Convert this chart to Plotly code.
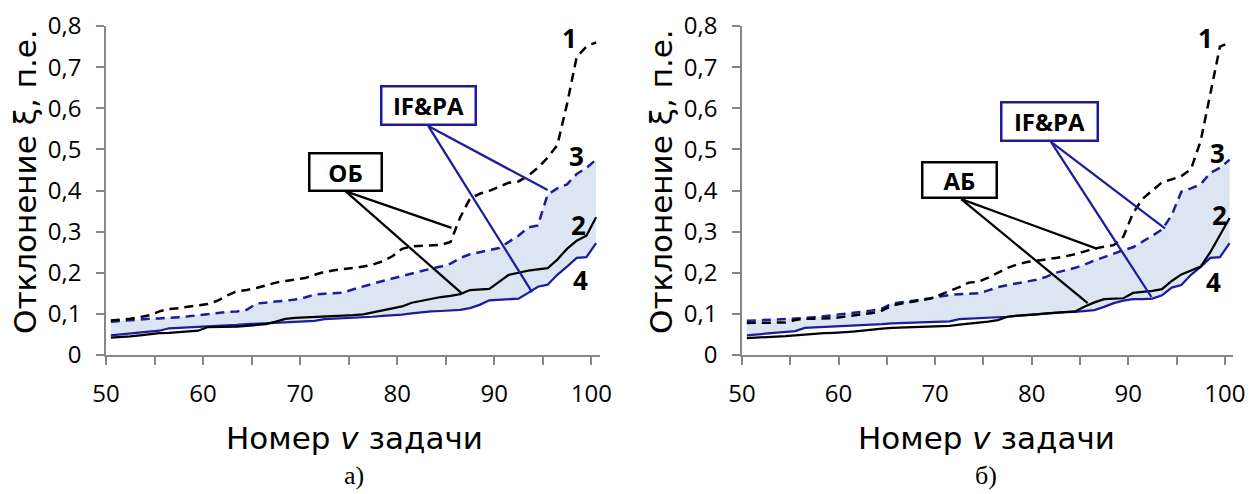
import numpy as np
import plotly.graph_objects as go

# task numbers (categories)
X = list(np.arange(50.5, 101.0, 1.0))

# ---- chart а) ----
A_S1 = [0.084,0.086,0.088,0.092,0.097,0.106,0.112,0.114,0.117,0.121,
        0.124,0.132,0.145,0.155,0.158,0.163,0.170,0.176,0.180,0.183,
        0.187,0.195,0.202,0.206,0.209,0.212,0.215,0.220,0.228,0.240,
        0.258,0.264,0.265,0.267,0.268,0.275,0.335,0.380,0.392,0.399,
        0.410,0.419,0.422,0.436,0.455,0.480,0.510,0.610,0.725,0.750,0.760]
A_S2 = [0.042,0.043,0.045,0.048,0.051,0.053,0.054,0.056,0.057,0.059,
        0.068,0.068,0.069,0.069,0.071,0.073,0.075,0.081,0.088,0.090,
        0.091,0.093,0.094,0.095,0.096,0.097,0.099,0.104,0.109,0.113,
        0.118,0.127,0.132,0.137,0.141,0.144,0.148,0.158,0.159,0.161,
        0.178,0.195,0.200,0.205,0.208,0.211,0.232,0.258,0.278,0.290,0.335]
A_S3 = [0.081,0.083,0.085,0.087,0.088,0.089,0.090,0.092,0.094,0.097,
        0.100,0.103,0.105,0.106,0.110,0.125,0.128,0.130,0.132,0.135,
        0.140,0.147,0.149,0.150,0.152,0.160,0.167,0.174,0.180,0.186,
        0.192,0.198,0.205,0.210,0.215,0.222,0.236,0.245,0.250,0.255,
        0.260,0.275,0.290,0.310,0.315,0.390,0.405,0.415,0.440,0.455,0.475]
A_S4 = [0.048,0.050,0.052,0.054,0.056,0.059,0.065,0.066,0.067,0.068,
        0.069,0.070,0.071,0.073,0.075,0.076,0.078,0.079,0.080,0.080,
        0.081,0.083,0.087,0.088,0.089,0.090,0.092,0.093,0.095,0.096,
        0.098,0.101,0.104,0.106,0.107,0.108,0.110,0.114,0.122,0.133,
        0.134,0.135,0.137,0.151,0.166,0.171,0.195,0.215,0.236,0.238,0.272]

# ---- chart б) ----
B_S1 = [0.078,0.078,0.078,0.079,0.079,0.085,0.088,0.088,0.089,0.090,
        0.093,0.096,0.099,0.102,0.108,0.120,0.125,0.129,0.132,0.137,
        0.146,0.155,0.165,0.176,0.178,0.188,0.200,0.212,0.220,0.226,
        0.229,0.232,0.236,0.240,0.245,0.252,0.259,0.263,0.267,0.288,
        0.345,0.380,0.400,0.420,0.427,0.435,0.452,0.520,0.635,0.750,0.760]
B_S2 = [0.041,0.042,0.043,0.045,0.046,0.048,0.050,0.051,0.053,0.054,
        0.055,0.057,0.059,0.062,0.064,0.066,0.067,0.068,0.069,0.070,
        0.070,0.071,0.074,0.076,0.078,0.081,0.085,0.093,0.096,0.097,
        0.099,0.101,0.103,0.104,0.106,0.118,0.128,0.136,0.137,0.138,
        0.151,0.153,0.156,0.160,0.180,0.196,0.205,0.215,0.250,0.290,0.333]
B_S3 = [0.083,0.084,0.085,0.086,0.087,0.089,0.090,0.092,0.094,0.097,
        0.100,0.103,0.105,0.108,0.113,0.125,0.128,0.131,0.134,0.138,
        0.142,0.146,0.148,0.149,0.150,0.157,0.165,0.170,0.174,0.178,
        0.183,0.190,0.200,0.206,0.212,0.220,0.230,0.238,0.247,0.255,
        0.262,0.275,0.290,0.305,0.340,0.397,0.405,0.415,0.443,0.455,0.475]
B_S4 = [0.048,0.050,0.052,0.054,0.056,0.058,0.066,0.067,0.068,0.069,
        0.070,0.071,0.072,0.074,0.075,0.077,0.078,0.079,0.080,0.080,
        0.081,0.082,0.087,0.088,0.089,0.091,0.092,0.093,0.095,0.097,
        0.099,0.101,0.103,0.104,0.105,0.107,0.109,0.117,0.126,0.132,
        0.136,0.136,0.137,0.145,0.164,0.170,0.195,0.214,0.236,0.238,0.272]

X_TICKS = [50, 55, 60, 65, 70, 75, 80, 85, 90, 95, 100]
X_TEXT = ["50", "", "60", "", "70", "", "80", "", "90", "", "100"]
Y_TICKS = [0, 0.1, 0.2, 0.3, 0.4, 0.5, 0.6, 0.7, 0.8]
Y_TEXT = ["0", "0,1", "0,2", "0,3", "0,4", "0,5", "0,6", "0,7", "0,8"]

BLUE = "#1c1c9c"
FILL = "#dce6f2"
AXC = "#868686"
FONT = "Open Sans"
TFONT = "DejaVu Sans"

fig = go.Figure()

def add_panel(s1, s2, s3, s4, xa, ya):
    fig.add_trace(go.Scatter(x=X, y=s4, mode="lines", line=dict(width=0, color=FILL),
                             xaxis=xa, yaxis=ya, showlegend=False, hoverinfo="skip"))
    fig.add_trace(go.Scatter(x=X, y=s3, mode="lines", line=dict(width=0, color=FILL),
                             fill="tonexty", fillcolor=FILL,
                             xaxis=xa, yaxis=ya, showlegend=False, hoverinfo="skip"))
    fig.add_trace(go.Scatter(x=X, y=s4, mode="lines", line=dict(color=BLUE, width=2.25),
                             xaxis=xa, yaxis=ya, showlegend=False))
    fig.add_trace(go.Scatter(x=X, y=s2, mode="lines", line=dict(color="black", width=2.25),
                             xaxis=xa, yaxis=ya, showlegend=False))
    fig.add_trace(go.Scatter(x=X, y=s3, mode="lines", line=dict(color=BLUE, width=2.5, dash="9px,6px"),
                             xaxis=xa, yaxis=ya, showlegend=False))
    fig.add_trace(go.Scatter(x=X, y=s1, mode="lines", line=dict(color="black", width=2.5, dash="9px,6px"),
                             xaxis=xa, yaxis=ya, showlegend=False))

add_panel(A_S1, A_S2, A_S3, A_S4, "x", "y")
add_panel(B_S1, B_S2, B_S3, B_S4, "x2", "y2")

# page body has an 8px default margin: figure is sized to fit the window exactly
OFF = 8
W, H = 1254 - OFF, 494 - OFF
def PX(p):
    return (p - OFF) / W
def PY(p):
    return 1 - (p - OFF) / H

ydom = [PY(355), PY(26)]

xcommon = dict(tickmode="array", tickvals=X_TICKS, ticktext=X_TEXT, showgrid=False,
               zeroline=False, showline=True, linecolor=AXC, linewidth=1.5,
               ticks="outside", ticklen=8, tickcolor=AXC, tickwidth=1.5, automargin=False,
               tickfont=dict(family=FONT, size=24, color="black"), ticklabelstandoff=8)
ycommon = dict(tickmode="array", tickvals=Y_TICKS, ticktext=Y_TEXT, showgrid=False,
               zeroline=False, showline=True, linecolor=AXC, linewidth=1.5, automargin=False,
               ticks="outside", ticklen=8, tickcolor=AXC, tickwidth=1.5, range=[0, 0.8],
               tickfont=dict(family=FONT, size=24, color="black"), ticklabelstandoff=10)

fig.update_layout(
    width=W, height=H, margin=dict(l=0, r=0, t=0, b=0, pad=0, autoexpand=False),
    plot_bgcolor="white", paper_bgcolor="white", showlegend=False,
    xaxis=dict(domain=[PX(106), PX(600)], range=[50, 100.9], anchor="y", **xcommon),
    yaxis=dict(domain=ydom, anchor="x", **ycommon),
    xaxis2=dict(domain=[PX(742), PX(1233)], range=[50, 100.85], anchor="y2", **xcommon),
    yaxis2=dict(domain=ydom, anchor="x2", **ycommon),
)

anns = []
def txt(x, y, text, size=22, bold=False, family=FONT, xref="paper", yref="paper", **kw):
    anns.append(dict(x=x, y=y, xref=xref, yref=yref, text=("<b>%s</b>" % text) if bold else text,
                     showarrow=False, font=dict(family=family, size=size, color="black"), **kw))

# axis titles
for cx, lx in [(25, 354), (661, 986)]:
    txt(PX(cx), PY(182), "Отклонение ξ, п.е.", size=31, family=TFONT, textangle=-90,
        xanchor="center", yanchor="middle")
    txt(PX(lx), PY(438), "Номер <i>v</i> задачи", size=31, family=TFONT, xanchor="center", yanchor="middle")
txt(PX(354), PY(475), "а)", family="Liberation Serif", size=26, xanchor="center", yanchor="middle")
txt(PX(986), PY(475), "б)", family="Liberation Serif", size=26, xanchor="center", yanchor="middle")

# series numbers
for xr, yr, pts in [("x", "y", [(97.8, 0.771, "1"), (98.5, 0.485, "3"), (98.7, 0.315, "2"), (98.9, 0.182, "4")]),
                    ("x2", "y2", [(98.0, 0.771, "1"), (99.2, 0.49, "3"), (99.4, 0.34, "2"), (98.8, 0.178, "4")])]:
    for px, py, t in pts:
        txt(px, py, t, size=26, bold=True, xref=xr, yref=yr, xanchor="center", yanchor="middle")

# label boxes
boxes = [("x", "y", 83.2, 0.606, "IF&PA", BLUE, 92, 36),
         ("x", "y", 74.7, 0.446, "ОБ", "black", 70, 35),
         ("x2", "y2", 81.8, 0.567, "IF&PA", BLUE, 94, 36),
         ("x2", "y2", 72.5, 0.425, "АБ", "black", 72, 33)]
for xr, yr, bx, by, t, c, w, h in boxes:
    anns.append(dict(x=bx, y=by, xref=xr, yref=yr, text="<b>%s</b>" % t, showarrow=False,
                     font=dict(family=FONT, size=24, color="black"), bordercolor=c, borderwidth=2.5,
                     borderpad=0, bgcolor="white", width=w, height=h, xanchor="center", yanchor="middle"))

# leader lines (data coordinates)
leaders = [("x", "y", 83.2, 0.557, 95.5, 0.401, BLUE),
           ("x", "y", 83.2, 0.557, 93.9, 0.153, BLUE),
           ("x", "y", 74.7, 0.398, 85.6, 0.309, "black"),
           ("x", "y", 74.7, 0.398, 86.6, 0.151, "black"),
           ("x2", "y2", 82.0, 0.518, 93.8, 0.308, BLUE),
           ("x2", "y2", 82.0, 0.518, 92.4, 0.141, BLUE),
           ("x2", "y2", 72.7, 0.379, 86.8, 0.258, "black"),
           ("x2", "y2", 72.7, 0.379, 85.8, 0.126, "black")]
shapes = []
for xr, yr, x0, y0, x1, y1, c in leaders:
    shapes.append(dict(type="line", xref=xr, yref=yr, x0=x0, y0=y0, x1=x1, y1=y1,
                       line=dict(color=c, width=2.25), layer="above"))

fig.update_layout(annotations=anns, shapes=shapes)
fig.write_html("out.html")
